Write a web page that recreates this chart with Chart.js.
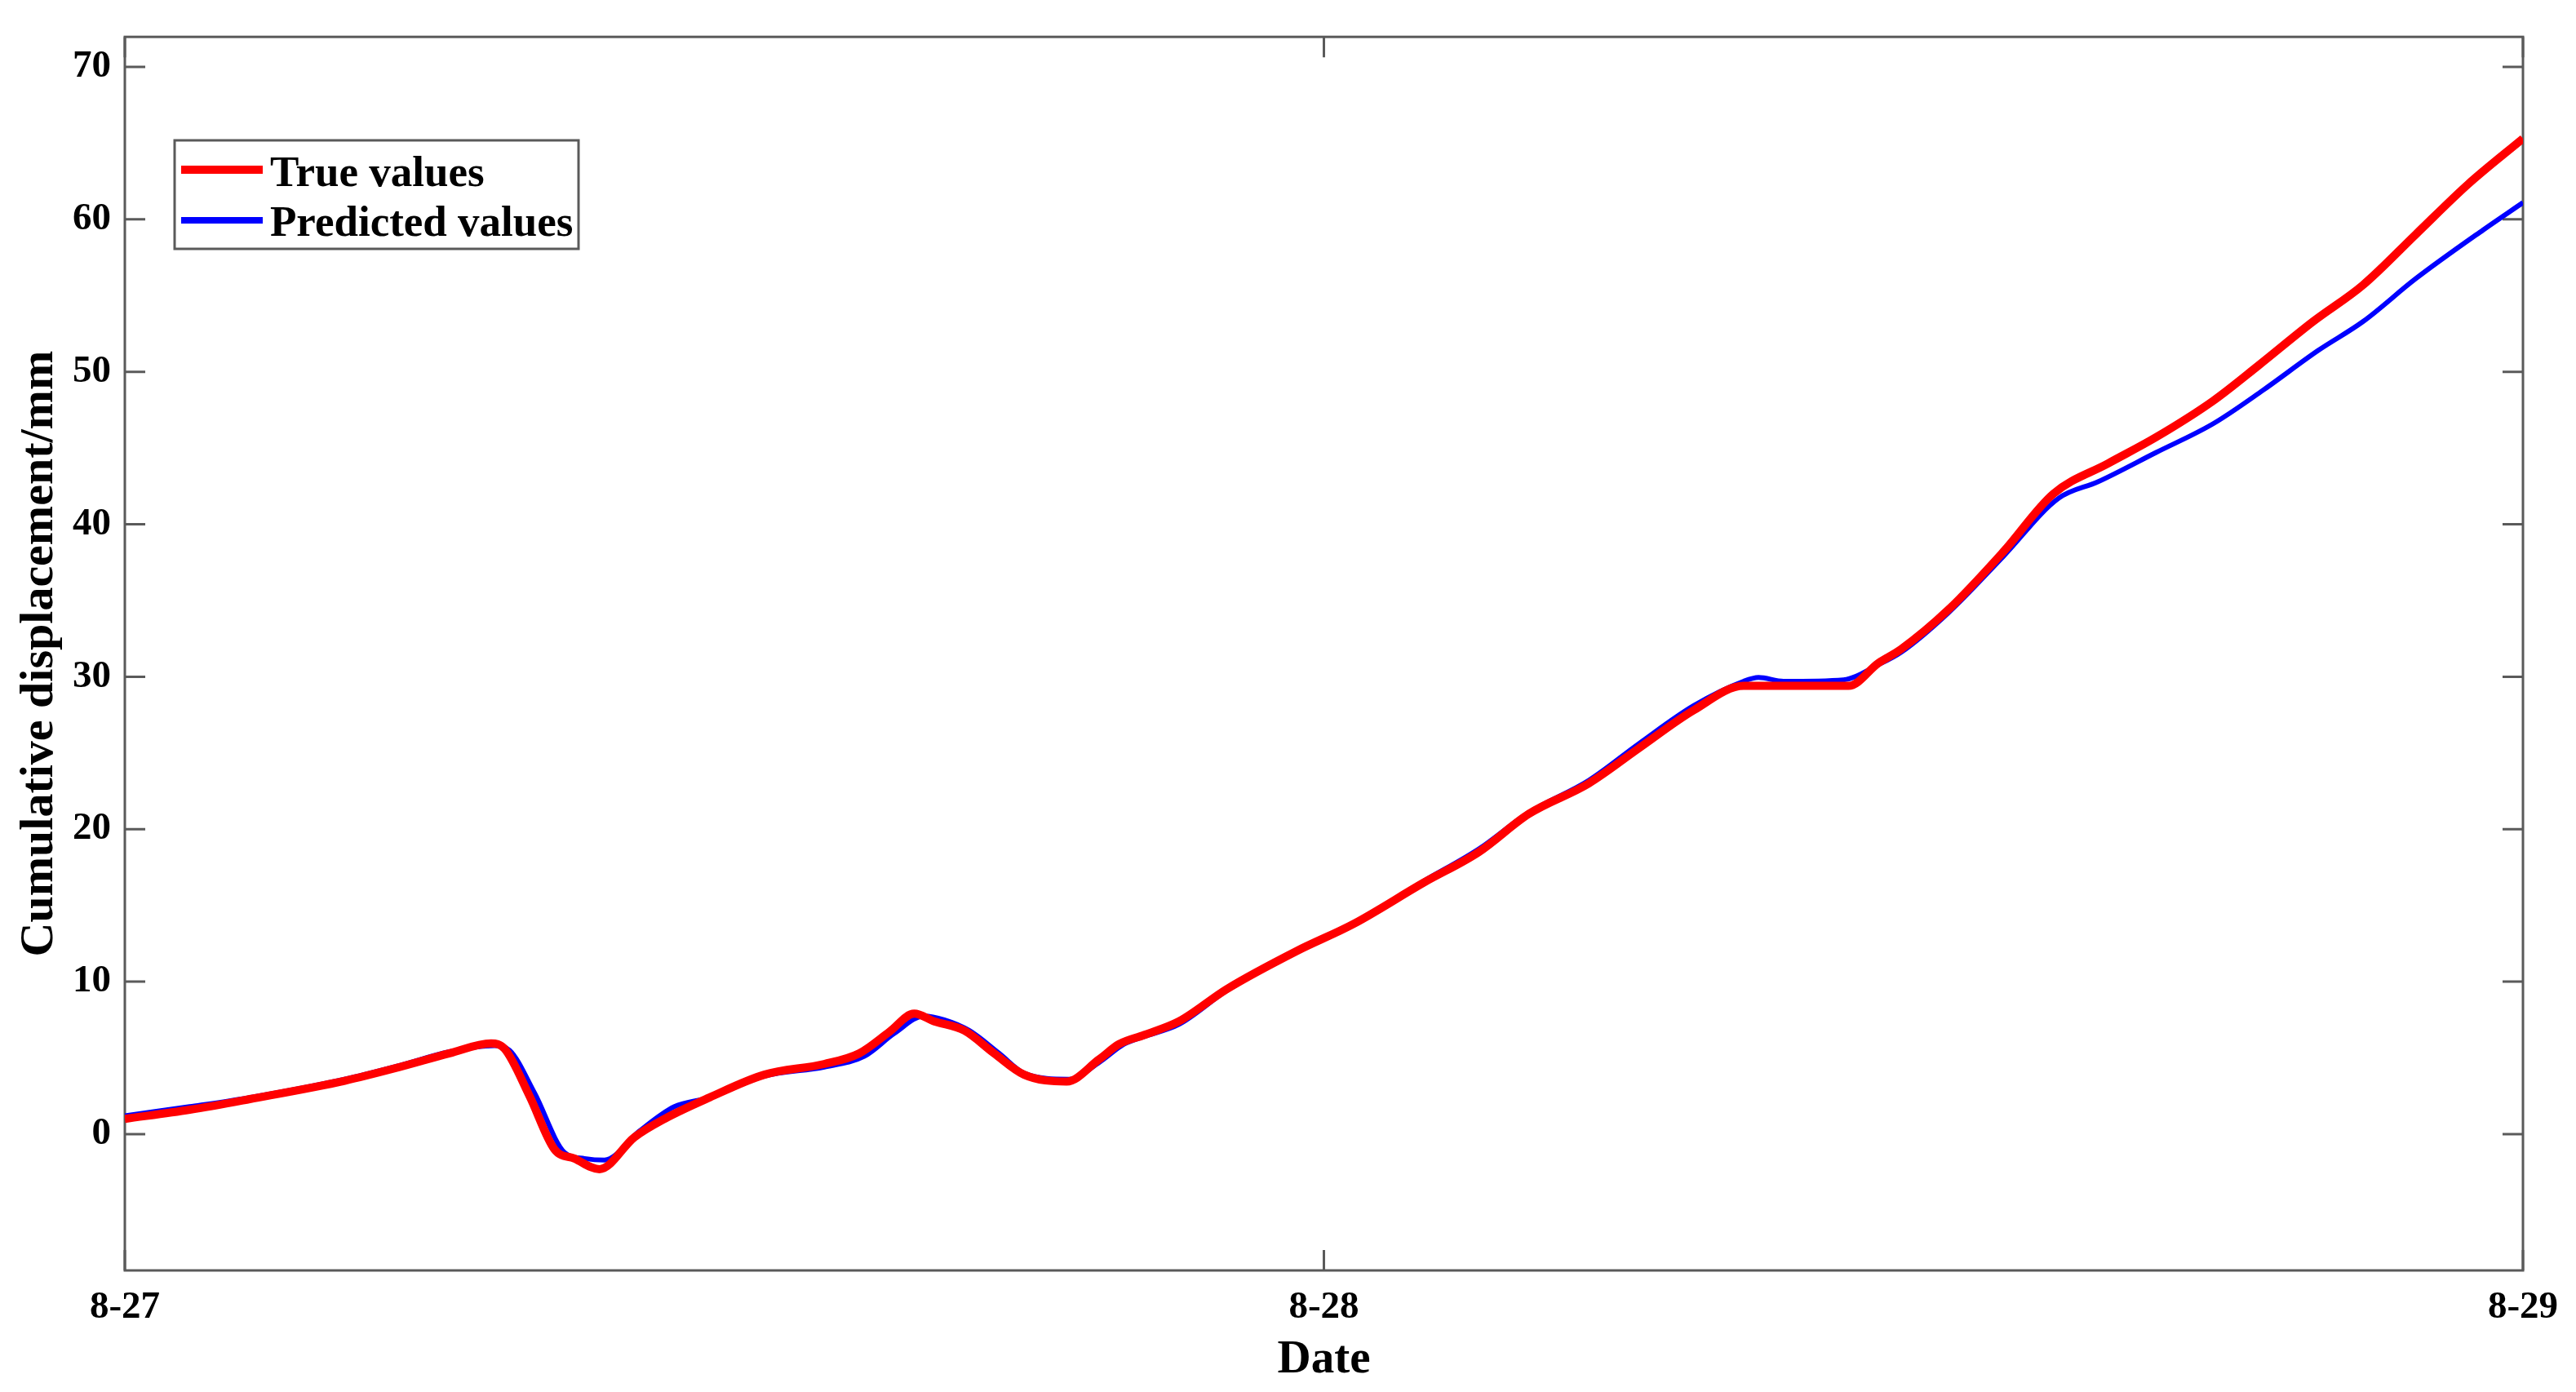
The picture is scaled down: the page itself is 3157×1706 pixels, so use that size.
<!DOCTYPE html>
<html><head><meta charset="utf-8">
<script src="https://cdn.jsdelivr.net/npm/chart.js@4/dist/chart.umd.min.js"></script>
<style>html,body{margin:0;padding:0;background:#fff;}</style>
</head><body>
<canvas id="c" width="3157" height="1706"></canvas>
<script>
const seriesNames = ['True values', 'Predicted values'];
const xTickValues = [0, 24, 48];
const xTickLabels = ['8-27', '8-28', '8-29'];
const yTickValues = [0, 10, 20, 30, 40, 50, 60, 70];

const trueHours = [0, 1.3, 2.5, 4.4, 5.5, 6.5, 7.33, 7.6, 8.1, 8.6, 9.0, 9.5, 10.2, 10.8, 11.7, 12.8, 14.0, 14.7, 15.3, 15.8, 16.2, 16.8, 17.4, 18.0, 18.85, 19.5, 19.9, 20.4, 21.1, 22.05, 23.45, 24.6, 26.0, 27.1, 28.1, 29.3, 30.3, 31.4, 32.4, 33.4, 34.5, 35.1, 35.55, 36.5, 37.6, 38.6, 39.7, 40.65, 41.8, 42.7, 43.8, 44.8, 45.85, 46.9, 48];
const trueValues = [1.0, 1.6, 2.3, 3.5, 4.4, 5.3, 5.95, 5.6, 2.5, -1.0, -1.6, -2.3, -0.2, 1.0, 2.4, 3.9, 4.6, 5.3, 6.7, 7.9, 7.4, 6.8, 5.3, 3.9, 3.45, 4.9, 5.9, 6.5, 7.4, 9.5, 12.0, 13.8, 16.5, 18.5, 21.0, 23.0, 25.3, 27.8, 29.4, 29.4, 29.4, 30.9, 31.8, 34.4, 38.2, 42.0, 44.0, 45.7, 48.1, 50.4, 53.3, 55.7, 59.0, 62.3, 65.3];

const predHours = [0, 1.3, 2.5, 4.4, 5.5, 6.5, 7.4, 7.7, 8.2, 8.8, 9.2, 9.6, 10.3, 11.0, 11.7, 12.8, 14.0, 14.8, 15.4, 16.0, 16.4, 16.9, 17.5, 18.0, 18.9, 19.5, 20.0, 20.4, 21.1, 22.05, 23.45, 24.6, 26.0, 27.1, 28.1, 29.3, 30.3, 31.4, 32.4, 32.7, 33.2, 34.4, 35.1, 35.55, 36.5, 37.6, 38.7, 39.5, 40.65, 41.8, 42.8, 43.9, 44.8, 45.85, 47.2, 48];
const predValues = [1.2, 1.8, 2.4, 3.6, 4.5, 5.4, 5.8, 5.5, 2.7, -1.2, -1.6, -1.7, 0.2, 1.8, 2.4, 3.8, 4.4, 5.1, 6.6, 7.75, 7.5, 6.8, 5.3, 4.0, 3.6, 4.7, 5.9, 6.4, 7.2, 9.4, 12.0, 13.8, 16.6, 18.7, 21.1, 23.2, 25.6, 28.1, 29.7, 29.95, 29.7, 29.8, 30.8, 31.6, 34.2, 37.9, 41.7, 42.8, 44.7, 46.6, 48.8, 51.4, 53.3, 56.1, 59.3, 61.1];

const FONT = 'Liberation Serif';

const toXY = (xs, ys) => xs.map((x, i) => ({x: x, y: ys[i]}));

const framePlugin = {
  id: 'frame',
  beforeDatasetsDraw(chart) {
    const {ctx, chartArea: a, scales: {x, y}} = chart;
    ctx.save();
    ctx.strokeStyle = '#5a5a5a';
    ctx.lineWidth = 3;
    ctx.strokeRect(a.left, a.top, a.right - a.left, a.bottom - a.top);
    ctx.beginPath();
    const L = 25;
    y.ticks.forEach(t => {
      const py = y.getPixelForValue(t.value);
      ctx.moveTo(a.left, py); ctx.lineTo(a.left + L, py);
      ctx.moveTo(a.right, py); ctx.lineTo(a.right - L, py);
    });
    x.ticks.forEach(t => {
      const px = x.getPixelForValue(t.value);
      ctx.moveTo(px, a.bottom); ctx.lineTo(px, a.bottom - L);
      ctx.moveTo(px, a.top); ctx.lineTo(px, a.top + L);
    });
    ctx.stroke();
    ctx.restore();
  },
  afterDraw(chart) {
    const {ctx} = chart;
    ctx.save();
    const bx = 214, by = 172, bw = 495, bh = 133;
    ctx.fillStyle = '#fff';
    ctx.fillRect(bx, by, bw, bh);
    ctx.strokeStyle = '#5a5a5a';
    ctx.lineWidth = 3;
    ctx.strokeRect(bx, by, bw, bh);
    const rowsY = [208, 270];
    const baseY = [228, 289];
    chart.data.datasets.forEach((ds, i) => {
      ctx.strokeStyle = ds.borderColor;
      ctx.lineWidth = i === 0 ? 10 : 8;
      ctx.beginPath();
      ctx.moveTo(222, rowsY[i]);
      ctx.lineTo(322, rowsY[i]);
      ctx.stroke();
      ctx.fillStyle = '#000';
      ctx.font = 'bold 53px "' + FONT + '"';
      ctx.textBaseline = 'alphabetic';
      ctx.textAlign = 'left';
      ctx.fillText(ds.label, 331, baseY[i]);
    });
    ctx.restore();
  }
};

new Chart(document.getElementById('c'), {
  type: 'line',
  data: {
    datasets: [
      {label: seriesNames[0], data: toXY(trueHours, trueValues), borderColor: '#ff0000', borderWidth: 10, pointRadius: 0, cubicInterpolationMode: 'monotone', fill: false},
      {label: seriesNames[1], data: toXY(predHours, predValues), borderColor: '#0000ff', borderWidth: 6, pointRadius: 0, cubicInterpolationMode: 'monotone', fill: false}
    ]
  },
  options: {
    responsive: false,
    animation: false,
    layout: {padding: {left: 0, right: 65, top: 36, bottom: 0}},
    plugins: {legend: {display: false}, tooltip: {enabled: false}},
    scales: {
      x: {
        type: 'linear', min: 0, max: 48,
        afterBuildTicks: s => { s.ticks = xTickValues.map(v => ({value: v})); },
        afterFit: s => { s.height = 149; },
        grid: {display: false, drawTicks: false},
        border: {display: false},
        ticks: {
          padding: 18, color: '#000', maxRotation: 0, autoSkip: false,
          font: {family: FONT, weight: 'bold', size: 47},
          callback: v => xTickLabels[xTickValues.indexOf(v)]
        },
        title: {display: true, text: 'Date', color: '#000', font: {family: FONT, weight: 'bold', size: 57, lineHeight: 1}, padding: {top: 0, bottom: 10}}
      },
      y: {
        type: 'linear', min: -8.94, max: 71.97,
        afterBuildTicks: s => { s.ticks = yTickValues.map(v => ({value: v})); },
        afterFit: s => { s.width = 153; },
        grid: {display: false, drawTicks: false},
        border: {display: false},
        ticks: {
          padding: 17, color: '#000',
          font: {family: FONT, weight: 'bold', size: 47}
        },
        title: {display: true, text: 'Cumulative displacement/mm', color: '#000', font: {family: FONT, weight: 'bold', size: 58, lineHeight: 1}, padding: {top: 20, bottom: 0}}
      }
    }
  },
  plugins: [framePlugin]
});
</script>
</body></html>
